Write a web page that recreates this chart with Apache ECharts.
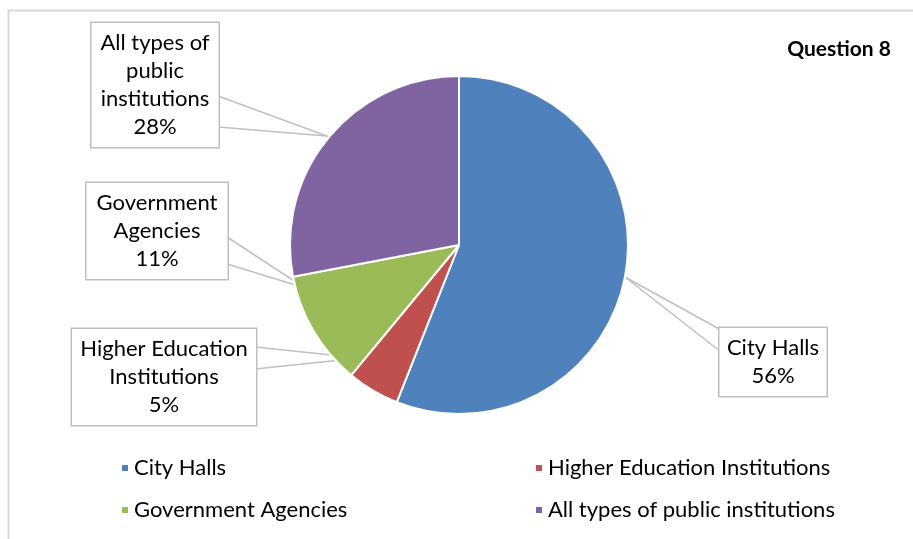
<!DOCTYPE html>
<html>
<head>
<meta charset="utf-8">
<script src="https://cdn.jsdelivr.net/npm/echarts@6/dist/echarts.min.js"></script>
<style>html,body{margin:0;padding:0;background:#fff;}#c{width:913px;height:539px;}</style>
</head>
<body>
<div id="c"></div>
<script>
const categories = ['City Halls', 'Higher Education Institutions', 'Government Agencies', 'All types of public institutions'];
const values = [56, 5, 11, 28];
const labelTexts = ['City Halls', 'Higher Education\nInstitutions', 'Government\nAgencies', 'All types of\npublic\ninstitutions'];
const colors = ['#4F81BD', '#C0504D', '#9BBB59', '#8064A2'];
const titleText = 'Question 8';

const FONT = 'Lato, "Liberation Sans", sans-serif';
// label box layout: center x, center y, box width, callout tip, callout base points on box
const boxes = [
  {cx: 773, cy: 362, w: 107, tip: [625, 277], base: [[721, 352], [721, 330]]},
  {cx: 164, cy: 377, w: 184, tip: [360, 358], base: [[255, 347], [255, 369]]},
  {cx: 157, cy: 231, w: 141, tip: [305, 288], base: [[227, 237], [227, 264]]},
  {cx: 155, cy: 85, w: 127, tip: [327, 136], base: [[218, 96], [218, 127]]}
];

const chart = echarts.init(document.getElementById('c'));
const data = categories.map((name, i) => ({
  name: name,
  value: values[i],
  itemStyle: {color: colors[i]},
  label: {width: boxes[i].w - 14}
}));

chart.setOption({
  animation: false,
  title: {
    text: titleText, right: 17, top: 34,
    textStyle: {fontFamily: FONT, fontSize: 21, fontWeight: 'bold', color: '#000'}
  },
  graphic: [{
    type: 'rect', shape: {x: 8.5, y: 10.5, width: 1000, height: 1000},
    style: {fill: 'none', stroke: '#d9d9d9', lineWidth: 2}, silent: true, z: -1
  }],
  legend: [{
    data: [categories[0], categories[2]],
    orient: 'vertical', left: 115, top: 451,
    icon: 'rect', itemWidth: 8, itemHeight: 8, itemGap: 18,
    textStyle: {fontFamily: FONT, fontSize: 22, lineHeight: 24, color: '#000'}
  }, {
    data: [categories[1], categories[3]],
    orient: 'vertical', left: 529, top: 451,
    icon: 'rect', itemWidth: 8, itemHeight: 8, itemGap: 18,
    textStyle: {fontFamily: FONT, fontSize: 22, lineHeight: 24, color: '#000'}
  }],
  series: [{
    type: 'pie',
    center: [459, 245],
    radius: 169,
    startAngle: 90,
    clockwise: true,
    data: data,
    itemStyle: {borderColor: '#fff', borderWidth: 2},
    label: {
      show: true,
      formatter: p => labelTexts[p.dataIndex] + '\n' + p.value + '%',
      fontFamily: FONT, fontSize: 22, lineHeight: 28, color: '#000',
      align: 'center', overflow: 'none',
      backgroundColor: '#fff', borderColor: '#bfbfbf', borderWidth: 1.5,
      padding: [6, 7, 6, 7]
    },
    labelLine: {show: true, lineStyle: {color: '#bfbfbf', width: 1.5}},
    labelLayout: function (params) {
      const b = boxes[params.dataIndex];
      return {
        x: b.cx, y: b.cy, align: 'center', verticalAlign: 'middle',
        labelLinePoints: [b.base[0], b.tip, b.base[1]]
      };
    }
  }]
});
</script>
</body>
</html>
